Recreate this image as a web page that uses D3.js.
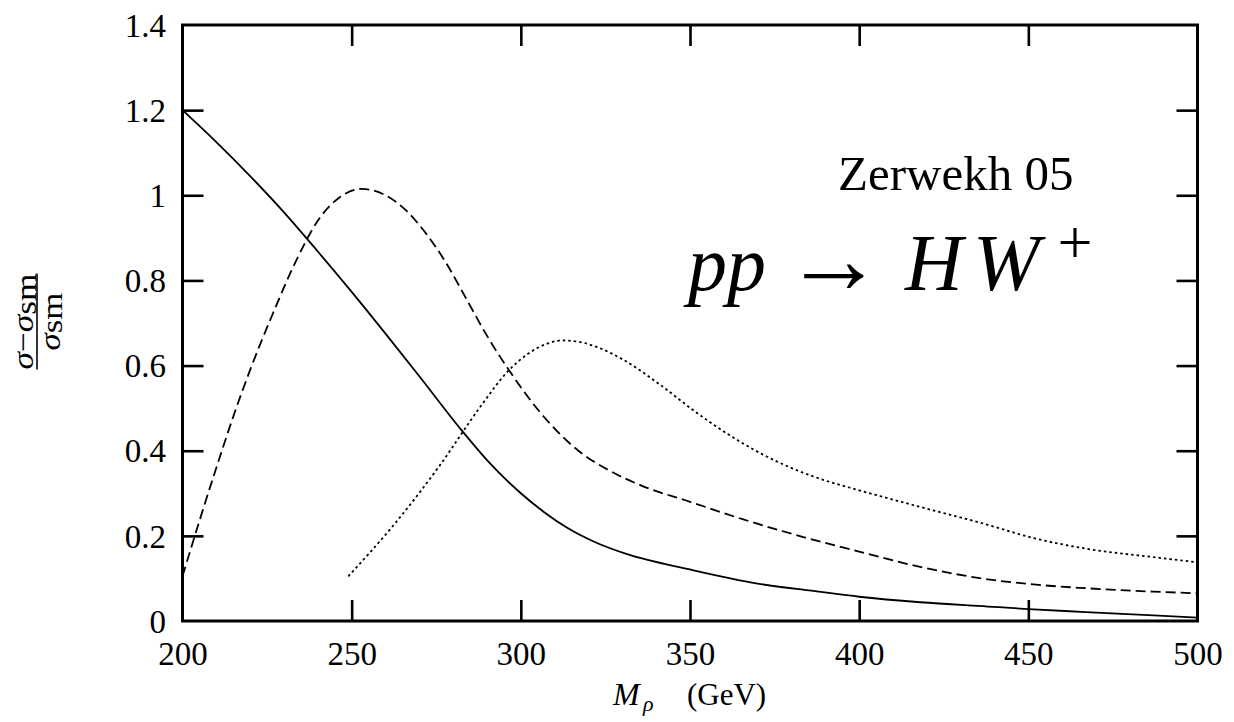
<!DOCTYPE html>
<html>
<head>
<meta charset="utf-8">
<script src="https://cdn.jsdelivr.net/npm/d3@7/dist/d3.min.js"></script>
<style>
  html, body { margin: 0; padding: 0; background: #fff; }
  svg { display: block; }
  text { font-family: "Liberation Serif", "DejaVu Serif", serif; fill: #000; }
</style>
</head>
<body>
<svg id="chart" width="1234" height="722"></svg>
<script>
// ---- data ----
const xTicks = [200, 250, 300, 350, 400, 450, 500];
const yTicks = [0, 0.2, 0.4, 0.6, 0.8, 1, 1.2, 1.4];
const yTickLabels = ["0", "0.2", "0.4", "0.6", "0.8", "1", "1.2", "1.4"];

const solidX = [200, 210, 220, 230, 240, 250, 260, 270, 282.4, 290, 300, 307, 313.7, 322, 331.4, 350, 370, 388, 400, 418, 438, 450, 467, 487, 500];
const solidY = [1.20, 1.125, 1.045, 0.96, 0.868, 0.773, 0.675, 0.575, 0.449, 0.378, 0.30, 0.255, 0.219, 0.185, 0.157, 0.121, 0.088, 0.069, 0.057, 0.044, 0.034, 0.028, 0.021, 0.013, 0.008];

const dashedX = [200, 205, 210, 215, 220, 226.6, 233.5, 240.4, 246.4, 253, 260, 266, 272, 278, 284, 290, 296, 307, 317, 326.5, 336, 350, 366, 380, 394, 400, 418, 438, 450, 467, 487, 500];
const dashedY = [0.105, 0.235, 0.36, 0.48, 0.59, 0.72, 0.845, 0.945, 0.995, 1.015, 1.0, 0.965, 0.91, 0.84, 0.755, 0.67, 0.595, 0.478, 0.40, 0.352, 0.317, 0.28, 0.238, 0.205, 0.175, 0.163, 0.127, 0.098, 0.087, 0.077, 0.069, 0.065];

const dottedX = [249, 263, 276, 288, 296, 302, 308, 312, 317, 323, 330, 341, 351, 361, 370.6, 380.4, 390, 400, 418, 438, 450, 467, 487, 500];
const dottedY = [0.105, 0.231, 0.365, 0.503, 0.585, 0.627, 0.652, 0.659, 0.656, 0.642, 0.615, 0.556, 0.495, 0.44, 0.395, 0.358, 0.33, 0.307, 0.268, 0.226, 0.198, 0.17, 0.15, 0.138];

// ---- layout ----
const svg = d3.select("#chart");
const L = 182.5, R = 1197.5, T = 25, B = 621;
const x = d3.scaleLinear().domain([200, 500]).range([L, R]);
const y = d3.scaleLinear().domain([0, 1.4]).range([B, T]);

// axes with inward ticks
const tickLen = 21;
const gB = svg.append("g").attr("transform", `translate(0,${B})`)
  .call(d3.axisBottom(x).tickValues(xTicks).tickSizeInner(-tickLen).tickSizeOuter(0).tickFormat(d3.format("d")));
const gT = svg.append("g").attr("transform", `translate(0,${T})`)
  .call(d3.axisTop(x).tickValues(xTicks.slice(1, -1)).tickSizeInner(-tickLen).tickSizeOuter(0).tickFormat(""));
const gL = svg.append("g").attr("transform", `translate(${L},0)`)
  .call(d3.axisLeft(y).tickValues(yTicks).tickSizeInner(-tickLen).tickSizeOuter(0).tickFormat((d, i) => yTickLabels[i]));
const gR = svg.append("g").attr("transform", `translate(${R},0)`)
  .call(d3.axisRight(y).tickValues(yTicks.slice(1, -1)).tickSizeInner(-tickLen).tickSizeOuter(0).tickFormat(""));

[gB, gT, gL, gR].forEach(g => {
  g.select(".domain").remove();
  g.selectAll(".tick line").attr("stroke", "#000").attr("stroke-width", 2.6);
  g.attr("font-family", null).attr("font-size", null);
});
gB.selectAll(".tick line").filter(d => d === 200 || d === 500).remove();
gL.selectAll(".tick line").filter(d => d === 0 || d === 1.4).remove();

gB.selectAll(".tick text")
  .attr("y", 665 - B).attr("dy", null)
  .style("font-size", "33px").attr("fill", "#000");
gL.selectAll(".tick text")
  .attr("x", 166 - L).attr("dy", "0.34em")
  .attr("text-anchor", "end")
  .style("font-size", "33px").attr("fill", "#000");

// frame
svg.append("rect")
  .attr("x", L).attr("y", T).attr("width", R - L).attr("height", B - T)
  .attr("fill", "none").attr("stroke", "#000").attr("stroke-width", 3);

// curves
const line = d3.line().x(d => x(d[0])).y(d => y(d[1])).curve(d3.curveMonotoneX);
const series = [
  { xs: solidX, ys: solidY, dash: null },
  { xs: dashedX, ys: dashedY, dash: "10,5" },
  { xs: dottedX, ys: dottedY, dash: "2.5,3" }
];
series.forEach(s => {
  svg.append("path")
    .datum(s.xs.map((v, i) => [v, s.ys[i]]))
    .attr("d", line)
    .attr("fill", "none")
    .attr("stroke", "#000")
    .attr("stroke-width", 1.8)
    .attr("stroke-dasharray", s.dash);
});

// x-axis label: M_rho (GeV)
svg.append("text").attr("x", 613).attr("y", 705).style("font-size", "32px").style("font-style", "italic").text("M");
svg.append("text").attr("x", 643).attr("y", 711).style("font-size", "22px").style("font-style", "italic").text("ρ");
svg.append("text").attr("x", 687).attr("y", 705).style("font-size", "31px").text("(GeV)");

// y-axis label: fraction (σ−σsm)/σsm rotated
const yl = svg.append("g").attr("transform", "translate(37,321.5) rotate(-90)");
yl.append("line").attr("x1", -48).attr("x2", 48).attr("y1", 0).attr("y2", 0)
  .attr("stroke", "#000").attr("stroke-width", 1.6);
const num = yl.append("text").attr("x", -48).attr("y", -4).style("font-size", "30px")
  .attr("textLength", 96).attr("lengthAdjust", "spacingAndGlyphs");
num.append("tspan").style("font-style", "italic").text("σ");
num.append("tspan").text("−");
num.append("tspan").style("font-style", "italic").text("σ");
num.append("tspan").attr("dy", 3).text("sm");
const den = yl.append("text").attr("x", -29).attr("y", 23).style("font-size", "30px")
  .attr("textLength", 58).attr("lengthAdjust", "spacingAndGlyphs");
den.append("tspan").style("font-style", "italic").text("σ");
den.append("tspan").attr("dy", 2).text("sm");

// annotations
svg.append("text").attr("x", 838).attr("y", 190).style("font-size", "49px").text("Zerwekh 05");
svg.append("text").attr("x", 688).attr("y", 290).style("font-size", "78px").style("font-style", "italic").text("pp");
svg.append("text").attr("x", 834).attr("y", 293).attr("text-anchor", "middle").style("font-size", "100px").text("→");
svg.append("text").attr("x", 905).attr("y", 290).style("font-size", "80px").style("font-style", "italic").text("H");
svg.append("text").attr("x", 973).attr("y", 290).style("font-size", "80px").style("font-style", "italic").text("W");
svg.append("text").attr("x", 1075).attr("y", 263).attr("text-anchor", "middle").style("font-size", "62px").text("+");
</script>
</body>
</html>
